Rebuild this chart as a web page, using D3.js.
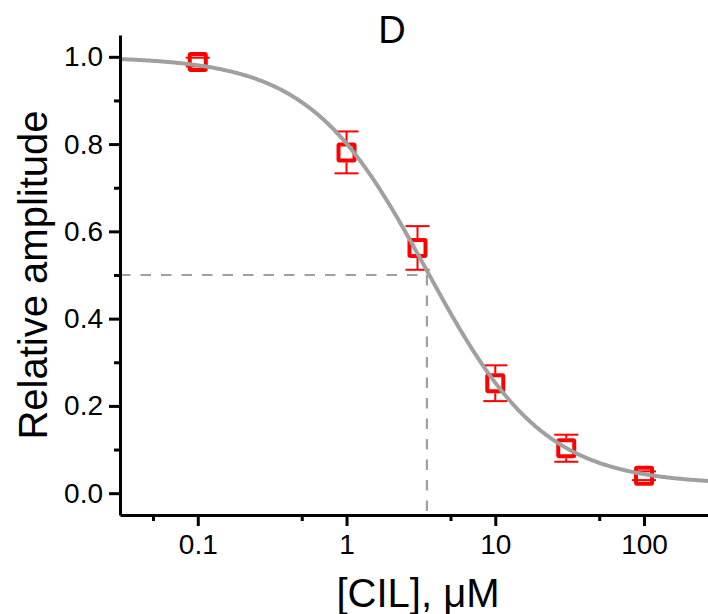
<!DOCTYPE html>
<html>
<head>
<meta charset="utf-8">
<script src="https://cdn.jsdelivr.net/npm/d3@7"></script>
<style>
  html, body { margin: 0; padding: 0; background: #fff; }
  svg { display: block; font-family: "Liberation Sans", Arial, sans-serif; }
</style>
</head>
<body>
<svg id="chart" width="708" height="614"></svg>
<script>
// ---- data ----
const concentrations = [0.1, 1, 3, 10, 30, 100];          // [CIL], µM
const amplitudes     = [0.988, 0.781, 0.562, 0.252, 0.103, 0.040];
const errors         = [0.010, 0.048, 0.050, 0.041, 0.031, 0.010];
const xTickValues    = [0.1, 1, 10, 100];
const xTickLabels    = ["0.1", "1", "10", "100"];
const xMinorTicks    = [0.05, 0.5, 5, 50];
const yTickValues    = [0.0, 0.2, 0.4, 0.6, 0.8, 1.0];
const yTickLabels    = ["0.0", "0.2", "0.4", "0.6", "0.8", "1.0"];
const yMinorTicks    = [0.1, 0.3, 0.5, 0.7, 0.9];
// Hill fit parameters
const fitTop = 1.0, fitBottom = 0.02, ic50 = 3.47, hillN = 1.1;
const title = "D";
const xLabel = "[CIL], \u03bcM";
const yLabel = "Relative amplitude";

// ---- layout ----
const svg = d3.select("#chart");
const x = d3.scaleLog().domain([0.03, 300]).range([120, 715]);
const y = d3.scaleLinear().domain([-0.05, 1.05]).range([515, 35]);
const axisColor = "#000";

// dashed IC50 guides
const guide = svg.append("g").attr("stroke", "#a0a0a0").attr("stroke-width", 2.2).attr("stroke-dasharray", "10.5,10").attr("fill", "none");
guide.append("line").attr("x1", x(0.03)).attr("x2", x(ic50)).attr("y1", y(0.5)).attr("y2", y(0.5));
guide.append("line").attr("x1", x(ic50)).attr("x2", x(ic50)).attr("y1", y(0.5)).attr("y2", y(-0.05));

// data points with error bars
const pts = concentrations.map((c, i) => ({ c, v: amplitudes[i], e: errors[i] }));
const half = 10, cap = 12;
const pg = svg.append("g").attr("stroke", "#ff0000").attr("fill", "none");
pts.forEach(p => {
  const cx = x(p.c), cy = y(p.v), yt = y(p.v + p.e), yb = y(p.v - p.e);
  const g = pg.append("g");
  if (yt < cy - half) g.append("line").attr("x1", cx).attr("x2", cx).attr("y1", yt).attr("y2", cy - half).attr("stroke-width", 2);
  if (yb > cy + half) g.append("line").attr("x1", cx).attr("x2", cx).attr("y1", cy + half).attr("y2", yb).attr("stroke-width", 2);
  g.append("line").attr("x1", cx - cap).attr("x2", cx + cap).attr("y1", yt).attr("y2", yt).attr("stroke-width", 2);
  g.append("line").attr("x1", cx - cap).attr("x2", cx + cap).attr("y1", yb).attr("y2", yb).attr("stroke-width", 2);
  g.append("rect").attr("x", cx - half + 2).attr("y", cy - half + 2)
    .attr("width", 2 * half - 4).attr("height", 2 * half - 4).attr("stroke-width", 4).attr("rx", 1);
});

// fitted curve (drawn over the markers)
const hill = c => fitBottom + (fitTop - fitBottom) / (1 + Math.pow(c / ic50, hillN));
const curveXs = d3.range(0, 401).map(i => Math.pow(10, Math.log10(0.03) + i * (Math.log10(300) - Math.log10(0.03)) / 400));
const line = d3.line().x(d => x(d)).y(d => y(hill(d)));
svg.append("path").datum(curveXs).attr("d", line)
  .attr("fill", "none").attr("stroke", "#a0a0a0").attr("stroke-width", 4);

// ---- axes ----
const xAxis = d3.axisBottom(x).tickValues(xTickValues).tickFormat((d, i) => xTickLabels[i]).tickSize(11).tickSizeOuter(0).tickPadding(8);
const gx = svg.append("g").attr("transform", `translate(0,${y(-0.05)})`).call(xAxis);
gx.select(".domain").attr("stroke-width", 3);
gx.selectAll(".tick line").attr("stroke-width", 3);
gx.selectAll(".tick text").attr("font-size", 28).attr("fill", axisColor).attr("font-family", "Liberation Sans, Arial, sans-serif");
const xMinor = d3.axisBottom(x).tickValues(xMinorTicks).tickFormat("").tickSize(6).tickSizeOuter(0);
const gxm = svg.append("g").attr("transform", `translate(0,${y(-0.05)})`).call(xMinor);
gxm.select(".domain").remove();
gxm.selectAll(".tick line").attr("stroke-width", 3);

const yAxis = d3.axisLeft(y).tickValues(yTickValues).tickFormat((d, i) => yTickLabels[i]).tickSize(11).tickSizeOuter(0).tickPadding(6);
const gy = svg.append("g").attr("transform", `translate(${x(0.03)},0)`).call(yAxis);
gy.select(".domain").attr("stroke-width", 3);
gy.selectAll(".tick line").attr("stroke-width", 3);
gy.selectAll(".tick text").attr("font-size", 28).attr("fill", axisColor).attr("font-family", "Liberation Sans, Arial, sans-serif");
const yMinor = d3.axisLeft(y).tickValues(yMinorTicks).tickFormat("").tickSize(6).tickSizeOuter(0);
const gym = svg.append("g").attr("transform", `translate(${x(0.03)},0)`).call(yMinor);
gym.select(".domain").remove();
gym.selectAll(".tick line").attr("stroke-width", 3);

// ---- labels ----
svg.append("text").attr("x", 392).attr("y", 43).attr("text-anchor", "middle")
  .attr("font-size", 38).text(title);
svg.append("text").attr("x", 418).attr("y", 607).attr("text-anchor", "middle")
  .attr("font-size", 40).text(xLabel);
svg.append("text").attr("transform", "translate(47,275) rotate(-90)").attr("text-anchor", "middle")
  .attr("font-size", 40).text(yLabel);
</script>
</body>
</html>
